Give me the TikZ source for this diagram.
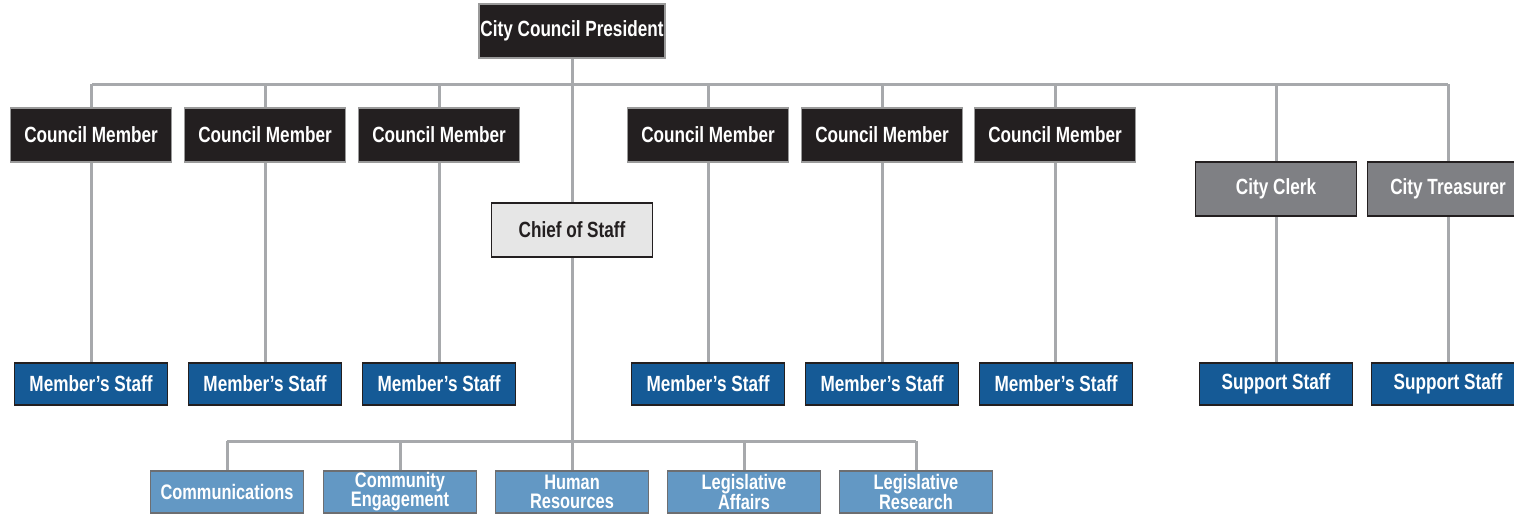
\documentclass[tikz,border=0pt]{standalone}
\usepackage{fontspec}
\setmainfont{Liberation Sans}[FakeStretch=0.78]
\usetikzlibrary{backgrounds}
\definecolor{boxblack}{HTML}{231F20}
\definecolor{boxedge}{HTML}{9A9A9A}
\definecolor{chieffill}{HTML}{E6E6E6}
\definecolor{clerkfill}{HTML}{7F8084}
\definecolor{staffblue}{HTML}{155A96}
\definecolor{unitblue}{HTML}{6398C4}
\definecolor{unitedge}{HTML}{6D6E71}
\definecolor{linegray}{HTML}{A7A9AC}
\tikzset{
  x=1pt, y=-1pt,
  base/.style={inner sep=0pt, align=center, font=\bfseries\fontsize{22}{22}\selectfont, line width=1.6pt},
  blackbox/.style={base, fill=boxblack, draw=boxedge, text=white, minimum width=161pt, minimum height=54pt},
  chiefbox/.style={base, fill=chieffill, draw=boxblack, text=boxblack, minimum width=161pt, minimum height=54pt},
  clerkbox/.style={base, fill=clerkfill, draw=boxblack, text=white, minimum width=161pt, minimum height=54pt},
  staffbox/.style={base, fill=staffblue, draw=boxblack, text=white, minimum width=153pt, minimum height=42pt},
  unitbox/.style={base, fill=unitblue, draw=unitedge, text=white, minimum width=153pt, minimum height=42pt, font=\bfseries\fontsize{21}{19}\selectfont},
  conn/.style={draw=linegray, line width=3pt}
}
\begin{document}
\begin{tikzpicture}
\useasboundingbox (0,0) rectangle (1514,515);
\coordinate (busL) at (92,84);
\coordinate (busR) at (1448,84);
\coordinate (bus2L) at (227,441);
\coordinate (bus2R) at (916,441);
\coordinate (bus2M) at (572,441);
\node[blackbox, minimum width=186pt] (pres) at (572,31) {City Council President};
\node[chiefbox] (chief) at (572,230) {Chief of Staff};
\node[blackbox] (cm1) at (91,135) {Council Member};
\node[blackbox] (cm2) at (265,135) {Council Member};
\node[blackbox] (cm3) at (439,135) {Council Member};
\node[blackbox] (cm4) at (708,135) {Council Member};
\node[blackbox] (cm5) at (882,135) {Council Member};
\node[blackbox] (cm6) at (1055,135) {Council Member};
\node[clerkbox] (clerk) at (1276,189) {City Clerk};
\node[clerkbox] (treas) at (1448,189) {City Treasurer};
\node[staffbox] (ms1) at (91,384) {Member’s Staff};
\node[staffbox] (ms2) at (265,384) {Member’s Staff};
\node[staffbox] (ms3) at (439,384) {Member’s Staff};
\node[staffbox] (ms4) at (708,384) {Member’s Staff};
\node[staffbox] (ms5) at (882,384) {Member’s Staff};
\node[staffbox] (ms6) at (1056,384) {Member’s Staff};
\node[staffbox] (ss1) at (1276,384) {Support Staff};
\node[staffbox] (ss2) at (1448,384) {Support Staff};
\node[unitbox] (u1) at (227,492) {Communications};
\node[unitbox] (u2) at (400,492) {Community\\Engagement};
\node[unitbox] (u3) at (572,492) {Human\\Resources};
\node[unitbox] (u4) at (744,492) {Legislative\\Affairs};
\node[unitbox] (u5) at (916,492) {Legislative\\Research};
\begin{scope}[on background layer]
  \fill[white] (0,0) rectangle (1514,515);
  \draw[conn] (busL) -- (busR);
  \draw[conn] (pres.south) -- (chief.north);
  \draw[conn] (chief.south) -- (bus2M);
  \draw[conn] (bus2L) -- (bus2R);
  \foreach \c/\s in {cm1/ms1, cm2/ms2, cm3/ms3, cm4/ms4, cm5/ms5, cm6/ms6, clerk/ss1, treas/ss2} {
    \draw[conn] (\c.north |- busL) -- (\c.north);
    \draw[conn] (\c.south) -- (\c.south |- \s.north);
  }
  \foreach \u in {u1,u2,u3,u4,u5} {
    \draw[conn] (\u.north |- bus2L) -- (\u.north);
  }
\end{scope}
\end{tikzpicture}
\end{document}
